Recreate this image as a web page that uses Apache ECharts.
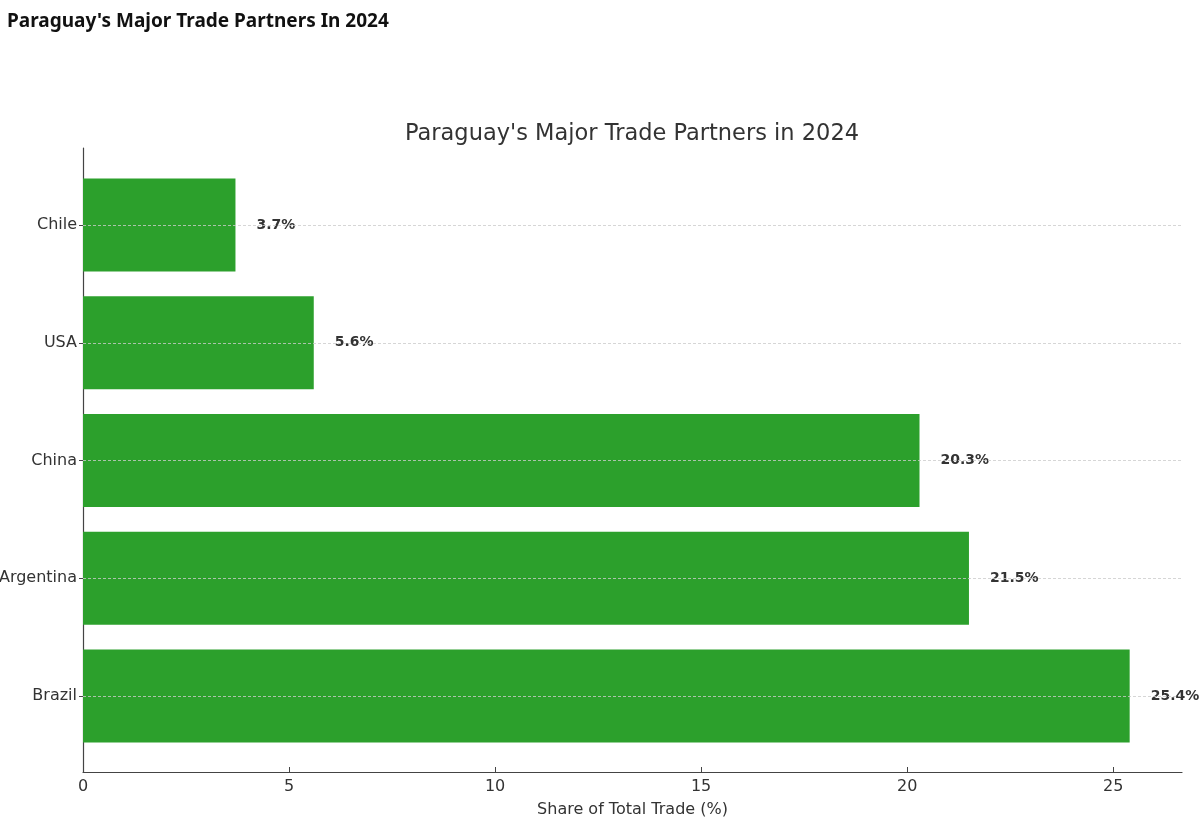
<!DOCTYPE html>
<html>
<head>
<meta charset="utf-8">
<script src="https://cdn.jsdelivr.net/npm/echarts@6/dist/echarts.min.js"></script>
<style>html,body{margin:0;padding:0;background:#fff;}#c{width:1200px;height:824px;}</style>
</head>
<body>
<div id="c"></div>
<script>
var categories = ['Brazil', 'Argentina', 'China', 'USA', 'Chile'];
var shares = [25.4, 21.5, 20.3, 5.6, 3.7];
var xTicks = [0, 5, 10, 15, 20, 25];

var FONT = 'DejaVu Sans';
var chart = echarts.init(document.getElementById('c'), null, {renderer: 'canvas'});
var xMax = 26.67;
chart.setOption({
  backgroundColor: '#fff',
  animation: false,
  title: [
    {text: "Paraguay's Major Trade Partners In 2024", left: 7, top: 12, padding: 0,
     textStyle: {fontFamily: 'Noto Sans', fontSize: 19, fontWeight: 'bold', color: '#111'}},
    {text: "Paraguay's Major Trade Partners in 2024", left: 632, textAlign: 'center', top: 123, padding: 0,
     textStyle: {fontFamily: FONT, fontSize: 22.5, fontWeight: 'normal', color: '#333'}}
  ],
  grid: [
    {left: 83, right: 18, top: 148, bottom: 52, outerBoundsMode: 'none', containLabel: false},
    {left: 83, right: 18, top: 225, bottom: 128, outerBoundsMode: 'none', containLabel: false}
  ],
  xAxis: [
    {gridIndex: 0, type: 'value', min: 0, max: xMax, interval: 5, z: 6,
     axisLine: {show: true, lineStyle: {color: '#444', width: 1.2}},
     axisTick: {show: false},
     axisLabel: {fontFamily: FONT, fontSize: 16, color: '#333', margin: 7,
       formatter: function (v) { return xTicks.indexOf(v) >= 0 ? String(v) : ''; }},
     splitLine: {show: false},
     name: 'Share of Total Trade (%)', nameLocation: 'middle', nameGap: 30,
     nameTextStyle: {fontFamily: FONT, fontSize: 16, color: '#333'}},
    {gridIndex: 1, type: 'value', min: 0, max: xMax, show: false},
    {gridIndex: 0, type: 'value', min: 0, max: xMax, position: 'bottom', offset: -5, z: 6,
     axisLine: {show: false},
     axisTick: {show: true, inside: false, length: 5, customValues: xTicks, lineStyle: {color: '#444', width: 1}},
     axisLabel: {show: false}, splitLine: {show: false}}
  ],
  yAxis: [
    {gridIndex: 0, type: 'value', min: 0, max: 1,
     axisLine: {show: true, lineStyle: {color: '#444', width: 1.2}},
     axisTick: {show: false}, axisLabel: {show: false}, splitLine: {show: false}},
    {gridIndex: 1, type: 'category', data: categories, boundaryGap: false, z: 5,
     axisLine: {show: false},
     axisTick: {show: true, length: 4, lineStyle: {color: '#444'}},
     axisLabel: {fontFamily: FONT, fontSize: 16, color: '#333', margin: 6},
     splitLine: {show: true, lineStyle: {color: '#ccc', type: [3, 2], width: 0.8}}}
  ],
  series: [{
    type: 'bar', xAxisIndex: 1, yAxisIndex: 1, data: shares, barWidth: 93, clip: false,
    itemStyle: {color: '#2ca02c'},
    label: {show: true, position: 'right', distance: 21, fontFamily: FONT, fontSize: 14,
      fontWeight: 'bold', color: '#333', formatter: function (p) { return p.value + '%'; }}
  }]
});
</script>
</body>
</html>
